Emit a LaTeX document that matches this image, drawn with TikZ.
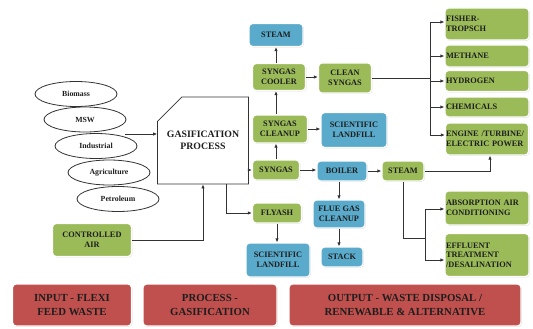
\documentclass[tikz,border=0pt]{standalone}
\usepackage{fontspec}
\setmainfont{Liberation Serif}
\usetikzlibrary{shapes.geometric,shapes.misc,shadows,arrows.meta}
\definecolor{gfill}{HTML}{9BBB59}
\definecolor{bfill}{HTML}{5AAACB}
\definecolor{rfill}{HTML}{C0504D}
\definecolor{txt}{HTML}{1E1E1E}
\definecolor{ln}{HTML}{333333}
\tikzset{
  bx/.style={rounded corners=3.5pt, draw=white, line width=1.3pt, text=txt,
    font=\bfseries\fontsize{8.3}{9.6}\selectfont, align=center, inner sep=1pt,
    drop shadow={shadow xshift=0.8pt, shadow yshift=-0.8pt, opacity=0.3}},
  gbox/.style={bx, fill=gfill},
  bbox/.style={bx, fill=bfill},
  rbox/.style={bx, fill=rfill, font=\bfseries\fontsize{10.8}{14}\selectfont},
  lbox/.style={gbox, align=left, text width=82pt},
  ell/.style={ellipse, draw=ln, line width=0.8pt, fill=white, text=txt,
    font=\bfseries\fontsize{7.8}{8}\selectfont, minimum width=82pt, minimum height=25pt, inner sep=0pt},
  arr/.style={draw=ln, line width=0.8pt, -{Latex[length=4pt,width=3.5pt]}},
  ln/.style={draw=ln, line width=0.8pt},
}
\begin{document}
\begin{tikzpicture}[x=1pt,y=-1pt]
\useasboundingbox (0,0) rectangle (533,329);
% inputs
\node[ell] (bio) at (76,94) {Biomass};
\node[ell] (msw) at (85,119.5) {MSW};
\node[ell] (ind) at (96,146) {Industrial};
\node[ell] (agr) at (109,172.5) {Agriculture};
\node[ell] (pet) at (118,199) {Petroleum};
\node[gbox, minimum width=79pt, minimum height=33pt] (air) at (92,240) {CONTROLLED\\AIR};
% process
\node[chamfered rectangle, chamfered rectangle corners=north west,
  chamfered rectangle xsep=17pt, chamfered rectangle ysep=15pt,
  draw=ln, line width=0.8pt, fill=white, minimum width=80pt, minimum height=87pt,
  inner sep=0pt, text=txt, font=\bfseries\fontsize{9.8}{12}\selectfont, align=center] (gas) at (203,140.5) {GASIFICATION\\PROCESS};
% outputs
\node[bbox, minimum width=54pt, minimum height=23pt] (st1) at (276,35) {STEAM};
\node[gbox, minimum width=53pt, minimum height=27pt] (cool) at (279,77) {SYNGAS\\COOLER};
\node[gbox, minimum width=53pt, minimum height=30pt] (cs) at (345,78) {CLEAN\\SYNGAS};
\node[gbox, minimum width=55pt, minimum height=28pt] (cln) at (280,129) {SYNGAS\\CLEANUP};
\node[bbox, minimum width=66pt, minimum height=35pt] (lf1) at (354,130) {SCIENTIFIC\\LANDFILL};
\node[gbox, minimum width=47pt, minimum height=20pt] (syn) at (276,170) {SYNGAS};
\node[bbox, minimum width=50pt, minimum height=20pt] (boil) at (342,171) {BOILER};
\node[gbox, minimum width=42pt, minimum height=20pt] (st2) at (403,171) {STEAM};
\node[bbox, minimum width=52pt, minimum height=28pt] (flue) at (339,214) {FLUE GAS\\CLEANUP};
\node[bbox, minimum width=42pt, minimum height=20pt] (stack) at (342,257) {STACK};
\node[gbox, minimum width=49pt, minimum height=20pt] (fly) at (277,213) {FLYASH};
\node[bbox, minimum width=64pt, minimum height=34pt] (lf2) at (278,260) {SCIENTIFIC\\LANDFILL};
% right column
\node[lbox, minimum height=32pt] (ft) at (487,24) {FISHER-\\TROPSCH};
\node[lbox, minimum height=22pt] (meth) at (487,56) {METHANE};
\node[lbox, minimum height=21pt] (hyd) at (487,81) {HYDROGEN};
\node[lbox, minimum height=20pt] (chem) at (487,107) {CHEMICALS};
\node[lbox, minimum height=32pt, inner sep=0.5pt] (eng) at (487,139) {ENGINE /TURBINE/\\ELECTRIC POWER};
\node[lbox, minimum height=34pt] (abs) at (487,208) {ABSORPTION AIR\\CONDITIONING};
\node[lbox, minimum height=43pt] (eff) at (487,255) {EFFLUENT\\TREATMENT\\/DESALINATION};
% bottom labels
\node[rbox, minimum width=119pt, minimum height=42pt] (lin) at (72,305) {INPUT - FLEXI\\FEED WASTE};
\node[rbox, minimum width=134pt, minimum height=42pt] (lpr) at (210,305) {PROCESS -\\GASIFICATION};
\node[rbox, minimum width=232pt, minimum height=42pt] (lout) at (405,305) {OUTPUT - WASTE DISPOSAL /\\RENEWABLE \& ALTERNATIVE};
% connectors
\coordinate (ein) at (125,134);
\draw[arr] (ein) -- (ein -| gas.west);
\draw[arr] (air.east) -| (gas.south);
\draw[arr] ([xshift=23pt]gas.south) |- (fly.west);
\draw[arr] (gas.east |- syn.west) -- (syn.west);
\draw[arr] (syn.north) -- (syn.north |- cln.south);
\draw[arr] (syn.north |- cln.north) -- (syn.north |- cool.south);
\draw[arr] (syn.north |- cool.north) -- (syn.north |- st1.south);
\draw[arr] (cln.east) -- (cln.east -| lf1.west);
\draw[arr] (cool.east) -- (cool.east -| cs.west);
\draw[arr] (syn.east) -- (syn.east -| boil.west);
\draw[arr] (boil.east) -- (st2.west);
\draw[arr] (boil.south -| flue.north) -- (flue.north);
\draw[arr] (flue.south) -- (flue.south |- stack.north);
\draw[arr] (fly.south) -- (fly.south |- lf2.north);
% clean syngas bus
\coordinate (bt) at (430,22);
\coordinate (bb) at (430,135);
\draw[ln] (bt) -- (bb);
\draw[ln] (cs.east) -- (cs.east -| bt);
\draw[arr] (bt) -- (bt -| ft.west);
\draw[arr] (bt |- meth.west) -- (meth.west);
\draw[arr] (bt |- hyd.west) -- (hyd.west);
\draw[arr] (bt |- chem.west) -- (chem.west);
\draw[arr] (bb) -- (bb -| eng.west);
% steam outputs
\draw[arr] (st2.east) -| ([xshift=3pt]eng.south);
\coordinate (sj) at (425,238);
\coordinate (st) at (425,209);
\coordinate (sb) at (425,260);
\draw[ln] (st2.south) |- (sj);
\draw[ln] (st) -- (sb);
\draw[arr] (st) -- (st -| abs.west);
\draw[arr] (sb) -- (sb -| eff.west);
\end{tikzpicture}
\end{document}
